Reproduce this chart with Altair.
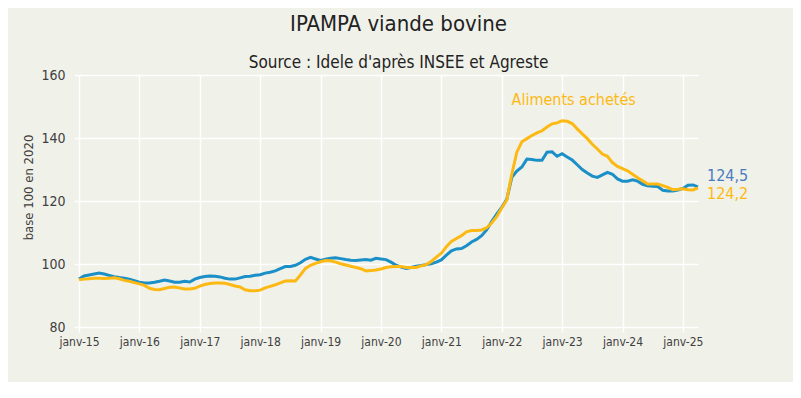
import altair as alt
import pandas as pd

FONT = "Liberation Sans Narrow, DejaVu Sans Condensed, sans-serif"

x_labels = ["janv-15", "janv-16", "janv-17", "janv-18", "janv-19", "janv-20",
            "janv-21", "janv-22", "janv-23", "janv-24", "janv-25"]

bovine = [95.2, 96.2, 96.5, 96.8, 97.1, 96.8, 96.4, 96.0, 95.7, 95.5, 95.2, 94.7,
          94.2, 94.0, 94.0, 94.2, 94.5, 94.9, 94.6, 94.2, 94.2, 94.5, 94.3, 95.2,
          95.7, 96.0, 96.2, 96.1, 95.9, 95.5, 95.2, 95.2, 95.6, 96.0, 96.1, 96.4,
          96.6, 97.1, 97.4, 97.8, 98.5, 99.2, 99.2, 99.6, 100.4, 101.5, 102.1, 101.6,
          101.1, 101.5, 101.8, 102.0, 101.7, 101.4, 101.2, 101.1, 101.3, 101.4, 101.2, 101.8,
          101.6, 101.4, 100.6, 99.6, 99.0, 98.6, 98.9, 99.3, 99.5, 99.8, 100.1, 100.6,
          101.3, 102.8, 104.2, 104.8, 104.9, 105.8, 107.0, 107.8, 109.0, 110.8, 113.5, 115.8,
          118.0, 120.5, 127.5, 129.5, 130.8, 133.3, 133.2, 132.9, 132.9, 135.5, 135.6, 134.2,
          135.0, 134.0, 133.0, 131.5, 130.0, 128.9, 127.9, 127.5, 128.3, 129.1, 128.5, 127.0,
          126.3, 126.3, 126.7, 126.3, 125.3, 124.8, 124.7, 124.6, 123.4, 123.2, 123.2, 123.5,
          124.0, 125.0, 125.1, 124.5]

aliments = [95.0, 95.2, 95.3, 95.5, 95.5, 95.4, 95.5, 95.6, 95.3, 94.8, 94.5, 94.1,
            93.7, 93.2, 92.3, 91.9, 91.8, 92.2, 92.6, 92.7, 92.4, 92.1, 92.1, 92.3,
            93.0, 93.5, 93.8, 94.0, 94.0, 93.9, 93.5, 93.0, 92.7, 91.8, 91.5, 91.5,
            91.7, 92.4, 92.9, 93.4, 94.0, 94.6, 94.7, 94.6, 96.5, 98.6, 99.6, 100.2,
            100.7, 101.1, 101.0, 100.6, 100.1, 99.7, 99.3, 98.9, 98.5, 97.8, 97.9, 98.1,
            98.4, 98.9, 99.1, 99.2, 99.2, 98.9, 98.9, 98.9, 99.4, 99.8, 100.8, 102.2,
            103.4, 105.5, 107.2, 108.1, 109.0, 110.2, 110.6, 110.6, 110.8, 111.5, 113.0, 115.0,
            117.8, 120.3, 128.5, 135.5, 138.8, 139.8, 140.8, 141.6, 142.3, 143.5, 144.5, 144.8,
            145.5, 145.3, 144.6, 142.9, 141.3, 139.8, 138.0, 136.5, 134.9, 134.2, 132.2, 131.0,
            130.3, 129.6, 128.5, 127.4, 126.4, 125.4, 125.4, 125.4, 124.9, 124.3, 123.6, 123.7,
            123.9, 123.6, 123.5, 124.2]

series_names = ["IPAMPA viande bovine", "Aliments achetés"]
colors = ["#1b8fc7", "#fdb913"]

months = list(range(len(bovine)))
df = pd.DataFrame({
    "m": months * 2,
    "v": bovine + aliments,
    "s": [series_names[0]] * len(bovine) + [series_names[1]] * len(aliments),
})

tick_vals = [12 * i for i in range(len(x_labels))]
label_expr = "[" + ",".join("'%s'" % l for l in x_labels) + "][round(datum.value/12)]"

xs = alt.X("m:Q", scale=alt.Scale(domain=[0, 123], nice=False, zero=False),
           axis=alt.Axis(values=tick_vals, labelExpr=label_expr, title=None,
                         grid=True, gridColor="white", gridWidth=1.5,
                         tickColor="white", tickWidth=1.5, tickSize=5,
                         domain=False, labelFont=FONT, labelFontSize=12,
                         labelColor="#404040", labelPadding=4,
                         labelOverlap=False, labelFlush=False))
ys = alt.Y("v:Q", scale=alt.Scale(domain=[80, 160], nice=False, zero=False),
           axis=alt.Axis(values=[80, 100, 120, 140, 160], title="base 100 en 2020",
                         grid=True, gridColor="white", gridWidth=1.5,
                         tickColor="white", tickWidth=1.5, tickSize=5,
                         domain=False, labelFont=FONT, labelFontSize=14,
                         labelColor="#404040", labelPadding=9,
                         titleFont=FONT, titleFontSize=13, titleFontWeight="normal",
                         titleColor="#404040", titleX=-51, titleY=112,
                         titleAlign="center", titleBaseline="middle"))

lines = alt.Chart(df).mark_line(strokeWidth=3, interpolate="linear").encode(
    x=xs, y=ys,
    color=alt.Color("s:N", scale=alt.Scale(domain=series_names, range=colors), legend=None),
    order=alt.Order("m:Q"),
)

ann = pd.DataFrame({"m": [98.3], "v": [152.0], "t": ["Aliments achetés"]})
ann_text = alt.Chart(ann).mark_text(font=FONT, fontSize=16, color=colors[1],
                                    align="center", baseline="middle").encode(
    x="m:Q", y="v:Q", text="t:N")

end_df = pd.DataFrame({"m": [months[-1]], "v": [bovine[-1]], "t": ["124,5"]})
end_df2 = pd.DataFrame({"m": [months[-1]], "v": [aliments[-1]], "t": ["124,2"]})
end_blue = alt.Chart(end_df).mark_text(font=FONT, fontSize=16, color="#4a7cc0",
                                       align="left", baseline="middle", dx=9, dy=-11).encode(
    x="m:Q", y="v:Q", text="t:N")
end_orange = alt.Chart(end_df2).mark_text(font=FONT, fontSize=16, color=colors[1],
                                          align="left", baseline="middle", dx=9, dy=6).encode(
    x="m:Q", y="v:Q", text="t:N")

chart = alt.layer(lines, ann_text, end_blue, end_orange).properties(
    width=619, height=252,
    title=alt.TitleParams(text="IPAMPA viande bovine",
                          subtitle="Source : Idele d'après INSEE et Agreste",
                          font=FONT, fontSize=22, fontWeight="normal", color="#222222",
                          subtitleFont=FONT, subtitleFontSize=17, subtitleColor="#222222",
                          anchor="middle", frame="group", dx=10, offset=-4,
                          subtitlePadding=19),
    background="#f0f1e9",
    padding={"left": 71, "top": 67, "right": 95, "bottom": 55},
    autosize=alt.AutoSizeParams(type="none"),
).configure_view(stroke=None, fill="#f0f1e9")

chart.save("out.html", embed_options={"renderer": "svg", "actions": False})
